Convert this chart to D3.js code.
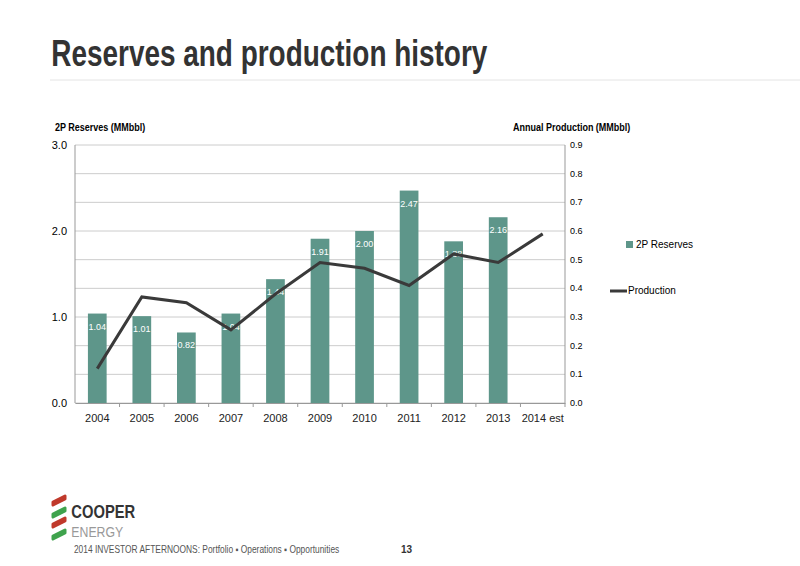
<!DOCTYPE html><html><head><meta charset="utf-8"><script src="https://d3js.org/d3.v7.min.js"></script>
<style>body{margin:0;background:#fff}text{font-family:"Liberation Sans",Arial,sans-serif}</style></head><body><svg id="c" width="800" height="566"></svg>
<script>
const categories=["2004","2005","2006","2007","2008","2009","2010","2011","2012","2013","2014 est"];
const reserves=[1.04,1.01,0.82,1.04,1.44,1.91,2.00,2.47,1.88,2.16,null];
const production=[0.12,0.37,0.35,0.255,0.38,0.49,0.47,0.41,0.52,0.49,0.59];
const leftTicks=[0,1,2,3];
const rightTicks=[0,0.1,0.2,0.3,0.4,0.5,0.6,0.7,0.8,0.9];
const svg=d3.select("#c");
svg.append("text").attr("y",66).attr("font-size",37).attr("font-weight","bold").attr("fill","#333").attr("transform","scale(0.755,1)").attr("x",68).text("Reserves and production history");
svg.append("line").attr("x1",50).attr("x2",800).attr("y1",80).attr("y2",80).attr("stroke","#e4e4e4");
const L=75,R=565,T=145,B=403;
const x=d3.scaleBand().domain(categories).range([L,R]).paddingInner(0.58).paddingOuter(0.29);
const yl=d3.scaleLinear().domain([0,3]).range([B,T]);
const yr=d3.scaleLinear().domain([0,0.9]).range([B,T]);
const g=svg.append("g");
rightTicks.forEach(t=>g.append("line").attr("x1",L).attr("x2",R).attr("y1",yr(t)).attr("y2",yr(t)).attr("stroke","#ccc"));
g.append("line").attr("x1",L).attr("x2",L).attr("y1",T).attr("y2",B).attr("stroke","#999");
g.append("line").attr("x1",R).attr("x2",R).attr("y1",T).attr("y2",B).attr("stroke","#999");
const xb=d3.scaleBand().domain(categories).range([L,R]);
g.append("g").attr("transform",`translate(0,${B})`).call(d3.axisBottom(xb).tickSize(4).tickSizeOuter(0)).call(a=>{a.select(".domain").attr("stroke","#999");a.selectAll("line").attr("stroke","#999").attr("transform",`translate(${xb.bandwidth()/2},0)`);a.selectAll("text").attr("font-size",11).attr("fill","#222").attr("dy","1.1em")});
leftTicks.forEach(t=>svg.append("text").attr("x",L-8).attr("y",yl(t)+4).attr("text-anchor","end").attr("font-size",11).text(t.toFixed(1)));
rightTicks.forEach(t=>svg.append("text").attr("x",R+5).attr("y",yr(t)+3).attr("font-size",9).text(t.toFixed(1)));
svg.append("text").attr("y",131).attr("font-size",10).attr("font-weight","bold").attr("transform","scale(0.9,1)").attr("x",61).text("2P Reserves (MMbbl)");
svg.append("text").attr("y",131).attr("font-size",10).attr("font-weight","bold").attr("transform","scale(0.9,1)").attr("x",570).text("Annual Production (MMbbl)");
const data=categories.map((c,i)=>({c,r:reserves[i],p:production[i]}));
g.selectAll(".bar").data(data.filter(d=>d.r!=null)).join("rect").attr("x",d=>x(d.c)).attr("width",x.bandwidth()).attr("y",d=>yl(d.r)).attr("height",d=>B-yl(d.r)).attr("fill","#5e968a");
g.selectAll(".lbl").data(data.filter(d=>d.r!=null)).join("text").attr("x",d=>x(d.c)+x.bandwidth()/2).attr("y",d=>yl(d.r)+16).attr("text-anchor","middle").attr("font-size",9).attr("fill","#fff").text(d=>d.r.toFixed(2));
g.append("path").datum(data).attr("d",d3.line().x(d=>xb(d.c)+xb.bandwidth()/2).y(d=>yr(d.p))).attr("fill","none").attr("stroke","#3a3a3a").attr("stroke-width",3);
svg.append("rect").attr("x",626).attr("y",241).attr("width",7).attr("height",7).attr("fill","#5e968a");
svg.append("text").attr("x",636).attr("y",248).attr("font-size",10).text("2P Reserves");
svg.append("line").attr("x1",610).attr("x2",627).attr("y1",291).attr("y2",291).attr("stroke","#3a3a3a").attr("stroke-width",3);
svg.append("text").attr("x",628).attr("y",294).attr("font-size",10).text("Production");
const logo=svg.append("g");
[["#c0392b",502],["#3fa34d",514],["#c0392b",524],["#3fa34d",536]].forEach(([c,y])=>logo.append("path").attr("d",`M53 ${y} l12 -6 l0 3 l-12 6 z`).attr("stroke",c).attr("stroke-width",3).attr("fill",c).attr("stroke-linejoin","round"));
svg.append("text").attr("y",518).attr("font-size",18).attr("font-weight","bold").attr("fill","#333").attr("transform","scale(0.82,1)").attr("x",87).text("COOPER");
svg.append("text").attr("y",537).attr("font-size",15).attr("fill","#999").attr("transform","scale(0.82,1)").attr("x",87).text("ENERGY");
svg.append("text").attr("y",553).attr("font-size",10).attr("fill","#555").attr("transform","scale(0.84,1)").attr("x",88).text("2014 INVESTOR AFTERNOONS: Portfolio ▪ Operations ▪ Opportunities");
svg.append("text").attr("x",401).attr("y",553).attr("font-size",10).attr("font-weight","bold").attr("fill","#333").text("13");
</script></body></html>
